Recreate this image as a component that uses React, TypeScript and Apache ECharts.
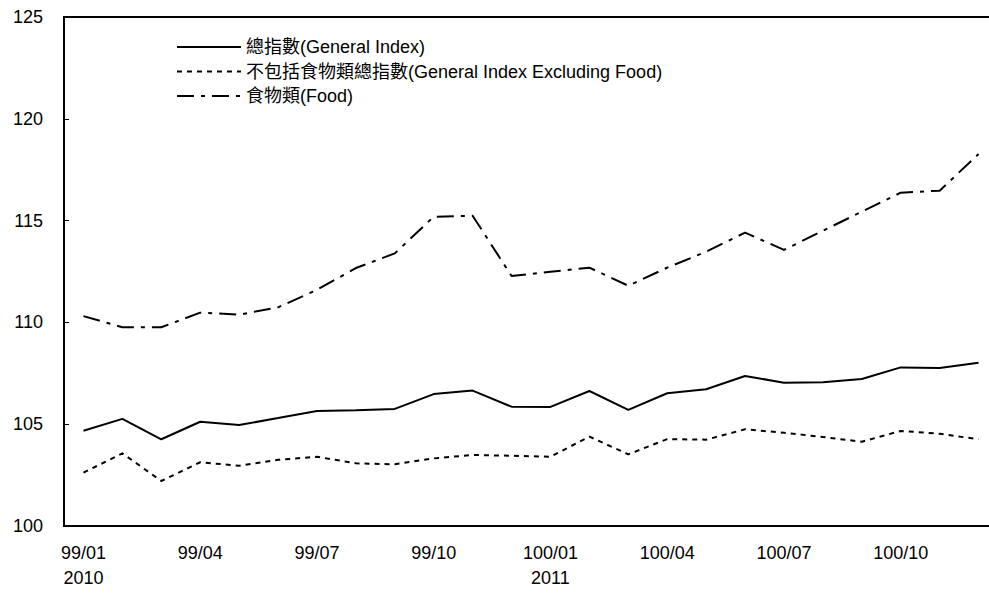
import React, { useEffect, useRef } from "react";
import * as echarts from "echarts";

const months = [
  "99/01", "99/02", "99/03", "99/04", "99/05", "99/06", "99/07", "99/08", "99/09", "99/10", "99/11", "99/12",
  "100/01", "100/02", "100/03", "100/04", "100/05", "100/06", "100/07", "100/08", "100/09", "100/10", "100/11", "100/12",
];
const yearLabels: Record<string, string> = { "99/01": "2010", "100/01": "2011" };

const seriesNames = [
  "總指數(General Index)",
  "不包括食物類總指數(General Index Excluding Food)",
  "食物類(Food)",
];

const generalIndex = [
  104.68, 105.26, 104.26, 105.12, 104.96, 105.3, 105.65, 105.68, 105.75, 106.48, 106.65, 105.86,
  105.85, 106.63, 105.7, 106.52, 106.72, 107.37, 107.04, 107.06, 107.22, 107.79, 107.76, 108.02,
];
const excludingFood = [
  102.62, 103.57, 102.21, 103.13, 102.96, 103.25, 103.4, 103.08, 103.03, 103.32, 103.49, 103.45,
  103.4, 104.39, 103.52, 104.27, 104.24, 104.75, 104.58, 104.37, 104.14, 104.67, 104.53, 104.26,
];
const food = [
  110.31, 109.76, 109.76, 110.48, 110.38, 110.74, 111.6, 112.67, 113.39, 115.19, 115.24, 112.28,
  112.49, 112.69, 111.8, 112.69, 113.47, 114.41, 113.56, 114.5, 115.44, 116.37, 116.47, 118.27,
];

const FONT = "'Liberation Sans', Arial, 'Noto Sans CJK TC', sans-serif";

export default function App() {
  const ref = useRef<HTMLDivElement>(null);
  useEffect(() => {
    if (!ref.current) return;
    const chart = echarts.init(ref.current, undefined, { renderer: "svg" });
    const lineBase = { color: "#000", width: 2 };
    chart.setOption({
      animation: false,
      backgroundColor: "#fff",
      textStyle: { fontFamily: FONT, color: "#000" },
      grid: {
        left: 64,
        top: 17,
        bottom: 67,
        right: 0,
        show: true,
        borderColor: "#000",
        borderWidth: 2,
        backgroundColor: "transparent",
      },
      legend: {
        orient: "vertical",
        left: 176,
        top: 37,
        padding: 0,
        itemWidth: 64,
        itemHeight: 14,
        itemGap: 4.5,
        itemStyle: { opacity: 0 },
        textStyle: { fontFamily: FONT, fontSize: 18, color: "#000", lineHeight: 20 },
        data: seriesNames,
      },
      xAxis: {
        type: "category",
        data: months,
        boundaryGap: true,
        axisLine: { lineStyle: { color: "#000", width: 2 } },
        axisTick: { inside: true, length: 5, lineStyle: { color: "#000", width: 1 }, interval: 0 },
        axisLabel: {
          interval: 2,
          margin: 14,
          fontSize: 18,
          lineHeight: 25,
          color: "#000",
          fontFamily: FONT,
          formatter: (v: string) => (yearLabels[v] ? `${v}\n${yearLabels[v]}` : v),
        },
        splitLine: { show: false },
      },
      yAxis: {
        type: "value",
        min: 100,
        max: 125,
        interval: 5,
        axisLine: { show: true, lineStyle: { color: "#000", width: 2 } },
        axisTick: { show: true, inside: true, length: 5, lineStyle: { color: "#000", width: 1 } },
        axisLabel: { margin: 21, fontSize: 18, color: "#000", fontFamily: FONT },
        splitLine: { show: false },
      },
      series: [
        {
          name: seriesNames[0],
          type: "line",
          data: generalIndex,
          symbol: "none",
          itemStyle: { color: "#000" },
          lineStyle: { ...lineBase, type: "solid" },
        },
        {
          name: seriesNames[1],
          type: "line",
          data: excludingFood,
          symbol: "none",
          itemStyle: { color: "#000" },
          lineStyle: { ...lineBase, type: [5, 5] },
        },
        {
          name: seriesNames[2],
          type: "line",
          data: food,
          symbol: "none",
          itemStyle: { color: "#000" },
          lineStyle: { ...lineBase, type: [17, 7, 4, 7] },
        },
      ],
    });
    return () => chart.dispose();
  }, []);
  return (
    <div style={{ position: "fixed", left: 0, top: 0, width: 989, height: 593, overflow: "hidden", background: "#fff" }}>
      <div ref={ref} style={{ position: "absolute", left: 0, top: 0, width: 998, height: 593 }} />
    </div>
  );
}
